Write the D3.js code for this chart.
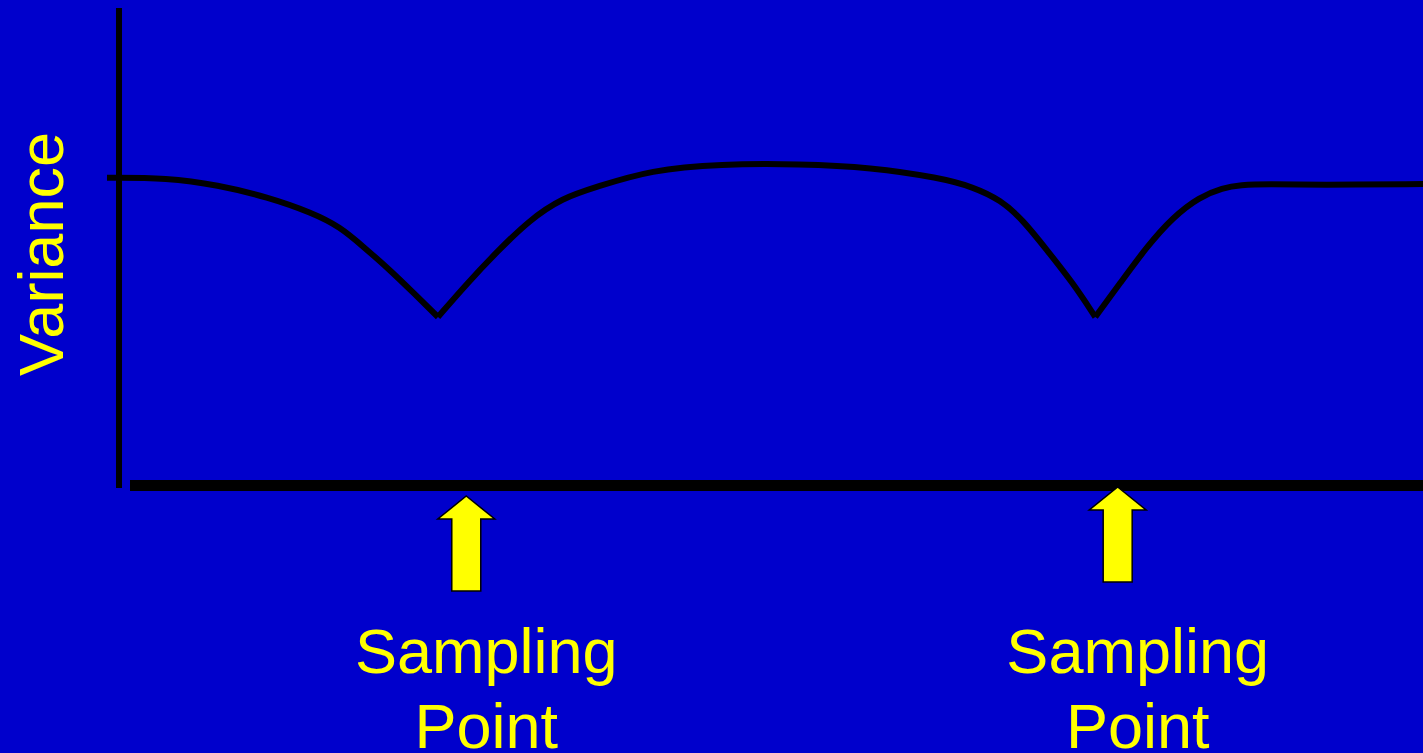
<!DOCTYPE html>
<html>
<head>
<meta charset="utf-8">
<script src="https://cdn.jsdelivr.net/npm/d3@7"></script>
<style>
  html, body { margin: 0; padding: 0; background: #0000CC; overflow: hidden; }
  svg { display: block; }
</style>
</head>
<body>
<svg id="chart" width="1423" height="753"></svg>
<script>
// ---- Data (time in arbitrary units 0..100, variance in arbitrary units 0..100) ----
const timeValues = [
  0, 4.6, 8.4, 12.2, 15.6, 17.7, 19.5, 21.5, 23.3, 25.15,
  27.4, 29.6, 32.1, 34.6, 37.2, 41.3, 46.6, 52.7, 58, 63.3, 65.8, 67.9, 69.6, 71.4, 73.4, 75.1,
  77, 79, 81, 83, 84.8, 86.1, 88.2, 92, 100
];
const varianceValues = [
  64, 64, 62.5, 60, 56.7, 53.8, 49.6, 44.8, 40, 35,
  42.1, 48.5, 55.2, 59.8, 62.1, 65.6, 66.9, 66.9, 66.2, 64, 62.1, 59.4, 55.2, 49, 42.1, 35,
  42.1, 49.6, 55.8, 60, 61.9, 62.5, 62.7, 62.5, 62.7
];
const minimaIndices = [9, 25];            // sharp corners (sampling instants)
const samplingTimes = [27.3, 76.8];
const samplingLabels = [["Sampling", "Point"], ["Sampling", "Point"]];
const yAxisLabel = "Variance";

// ---- Layout ----
const W = 1423, H = 753;
const svg = d3.select("#chart");
svg.append("rect").attr("width", W).attr("height", H).attr("fill", "#0000CC");

const x = d3.scaleLinear().domain([0, 100]).range([107, 1423]);
const y = d3.scaleLinear().domain([0, 100]).range([485, 5]);

// axes
svg.append("line")
  .attr("x1", 119).attr("x2", 119).attr("y1", 8).attr("y2", 488)
  .attr("stroke", "#000").attr("stroke-width", 6);
svg.append("line")
  .attr("x1", 130).attr("x2", W).attr("y1", 485.5).attr("y2", 485.5)
  .attr("stroke", "#000").attr("stroke-width", 11);

// curve, split at the sharp minima
const pts = timeValues.map((t, i) => [t, varianceValues[i]]);
const bounds = [0, ...minimaIndices, pts.length - 1];
const line = d3.line().x(d => x(d[0])).y(d => y(d[1])).curve(d3.curveBasis);
for (let s = 0; s < bounds.length - 1; s++) {
  const seg = pts.slice(bounds[s], bounds[s + 1] + 1);
  svg.append("path")
    .attr("d", line(seg))
    .attr("fill", "none")
    .attr("stroke", "#000")
    .attr("stroke-width", 6)
    .attr("stroke-linejoin", "round");
}

// arrows
const tipYs = [496, 487];
samplingTimes.forEach((t, i) => {
  const cx = x(t), ty = tipYs[i];
  const headH = 23, headW = 28.5, shaftW = 14.5, len = 95;
  const path = d3.path();
  path.moveTo(cx, ty);
  path.lineTo(cx + headW, ty + headH);
  path.lineTo(cx + shaftW, ty + headH);
  path.lineTo(cx + shaftW, ty + len);
  path.lineTo(cx - shaftW, ty + len);
  path.lineTo(cx - shaftW, ty + headH);
  path.lineTo(cx - headW, ty + headH);
  path.closePath();
  svg.append("path").attr("d", path.toString())
    .attr("fill", "#FFFF00").attr("stroke", "#000").attr("stroke-width", 1.5)
    .attr("stroke-linejoin", "miter");

  const lab = svg.append("text")
    .attr("x", cx + 20)
    .attr("text-anchor", "middle")
    .attr("font-family", "'Liberation Sans', Arial, sans-serif")
    .attr("font-size", 63)
    .attr("fill", "#FFFF00");
  samplingLabels[i].forEach((txt, j) => {
    lab.append("tspan").attr("x", cx + 20).attr("y", 673 + j * 75).text(txt);
  });
});

// y label
svg.append("text")
  .attr("transform", "translate(63,254) rotate(-90)")
  .attr("text-anchor", "middle")
  .attr("font-family", "'Liberation Sans', Arial, sans-serif")
  .attr("font-size", 63)
  .attr("fill", "#FFFF00")
  .text(yAxisLabel);
</script>
</body>
</html>
